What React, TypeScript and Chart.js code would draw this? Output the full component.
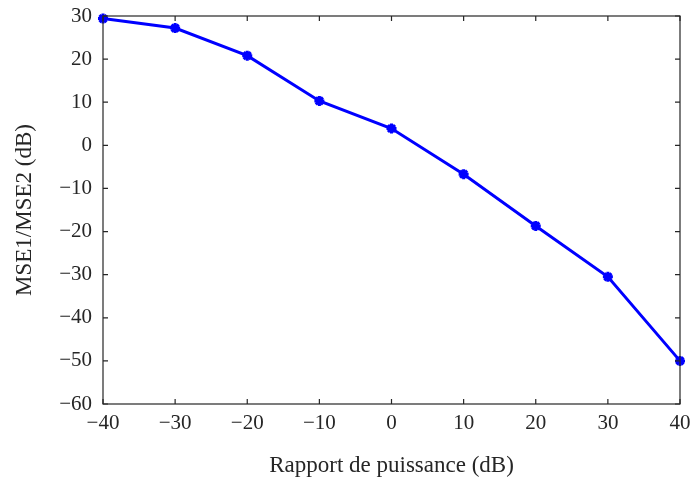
import React, { useEffect, useRef } from "react";
import { Chart, registerables } from "chart.js";

Chart.register(...registerables);

// Power ratio (dB) on the horizontal axis
const powerRatio = [-40, -30, -20, -10, 0, 10, 20, 30, 40];
// MSE1/MSE2 ratio (dB)
const mseRatio = [29.4, 27.2, 20.8, 10.3, 3.9, -6.7, -18.7, -30.5, -50.0];

const xTicks = [-40, -30, -20, -10, 0, 10, 20, 30, 40];
const yTicks = [30, 20, 10, 0, -10, -20, -30, -40, -50, -60];

const xTitle = "Rapport de puissance (dB)";
const yTitle = "MSE1/MSE2 (dB)";

const AXIS_COLOR = "#262626";
const FONT_FAMILY = "'Liberation Serif', 'Times New Roman', serif";

const fmt = (v: number) => String(v).replace("-", "\u2212");

// Draws the surrounding box and inward-pointing tick marks on all four sides.
const boxTicksPlugin = {
  id: "boxTicks",
  afterDatasetsDraw(chart: any) {
    const { ctx, chartArea, scales } = chart;
    const { left, right, top, bottom } = chartArea;
    const len = 5;
    ctx.save();
    ctx.strokeStyle = AXIS_COLOR;
    ctx.lineWidth = 1.2;
    ctx.beginPath();
    for (const v of xTicks) {
      const x = scales.x.getPixelForValue(v);
      ctx.moveTo(x, bottom);
      ctx.lineTo(x, bottom - len);
      ctx.moveTo(x, top);
      ctx.lineTo(x, top + len);
    }
    for (const v of yTicks) {
      const y = scales.y.getPixelForValue(v);
      ctx.moveTo(left, y);
      ctx.lineTo(left + len, y);
      ctx.moveTo(right, y);
      ctx.lineTo(right - len, y);
    }
    ctx.stroke();
    ctx.strokeRect(left, top, right - left, bottom - top);
    ctx.restore();
  },
};

// Invisible tick marks: they only set the gap between the axis and its labels.
const spacerGrid = (length: number) => ({
  display: true,
  drawOnChartArea: false,
  drawTicks: true,
  tickLength: length,
  color: "rgba(0,0,0,0)",
});

export default function App() {
  const canvasRef = useRef<HTMLCanvasElement | null>(null);

  useEffect(() => {
    const canvas = canvasRef.current;
    if (!canvas) return;
    const chart = new Chart(canvas, {
      type: "line",
      data: {
        datasets: [
          {
            data: powerRatio.map((x, i) => ({ x, y: mseRatio[i] })),
            borderColor: "#0000ff",
            backgroundColor: "#0000ff",
            borderWidth: 3,
            pointStyle: "star",
            pointRadius: 5,
            pointBorderWidth: 3,
            pointBorderColor: "#0000ff",
            tension: 0,
            clip: false as any,
          },
        ],
      },
      options: {
        animation: false,
        responsive: true,
        maintainAspectRatio: false,
        layout: { padding: { left: 0, top: 16, right: 12, bottom: 0 } },
        plugins: {
          legend: { display: false },
          tooltip: { enabled: false },
        },
        scales: {
          x: {
            type: "linear",
            min: -40,
            max: 40,
            afterFit: (s: any) => {
              s.height = 73;
            },
            afterBuildTicks: (s: any) => {
              s.ticks = xTicks.map((v) => ({ value: v }));
            },
            grid: spacerGrid(7),
            border: { display: false },
            ticks: {
              autoSkip: false,
              maxRotation: 0,
              padding: 0,
              color: AXIS_COLOR,
              font: { family: FONT_FAMILY, size: 21 },
              callback: (v: any) => fmt(Number(v)),
            },
            title: {
              display: true,
              text: xTitle,
              color: AXIS_COLOR,
              font: { family: FONT_FAMILY, size: 23 },
              padding: { top: 0, bottom: -3 },
            },
          },
          y: {
            type: "linear",
            min: -60,
            max: 30,
            afterFit: (s: any) => {
              s.width = 103;
            },
            afterBuildTicks: (s: any) => {
              s.ticks = yTicks.map((v) => ({ value: v }));
            },
            grid: spacerGrid(11),
            border: { display: false },
            ticks: {
              autoSkip: false,
              padding: 0,
              color: AXIS_COLOR,
              font: { family: FONT_FAMILY, size: 21 },
              callback: (v: any) => fmt(Number(v)),
            },
            title: {
              display: true,
              text: yTitle,
              color: AXIS_COLOR,
              font: { family: FONT_FAMILY, size: 23 },
              padding: { top: 11, bottom: 0 },
            },
          },
        },
      },
      plugins: [boxTicksPlugin],
    });
    return () => chart.destroy();
  }, []);

  return (
    <div
      style={{
        position: "fixed",
        left: 0,
        top: 0,
        width: 692,
        height: 477,
        background: "#ffffff",
      }}
    >
      <canvas ref={canvasRef} />
    </div>
  );
}
